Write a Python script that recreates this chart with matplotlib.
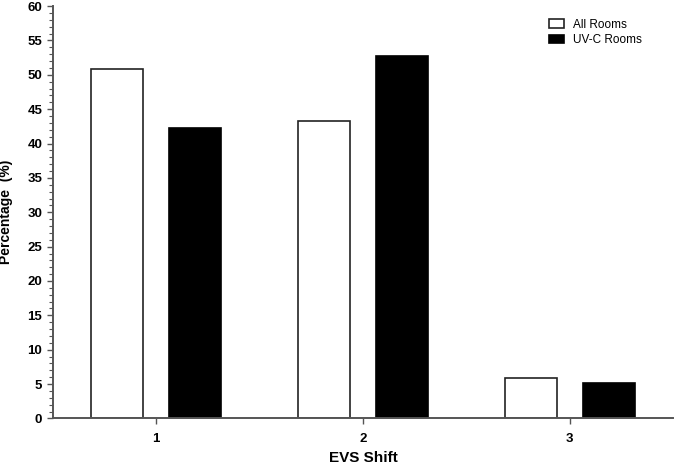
import numpy as np
import matplotlib
matplotlib.use('Agg')
import matplotlib.pyplot as plt
from matplotlib.ticker import MultipleLocator

plt.rcParams['font.family'] = ['Liberation Sans', 'DejaVu Sans']

# data
shifts = ['1', '2', '3']
all_rooms = [50.9, 43.3, 5.9]
uvc_rooms = [42.2, 52.8, 5.1]

x = np.arange(1, len(shifts) + 1)
width = 0.25
offset = 0.188

fig = plt.figure(figsize=(6.74, 4.66), dpi=100)
ax = fig.add_axes([0.078, 0.102, 0.921, 0.885])

ax.bar(x - offset, all_rooms, width, color='white', edgecolor='#222222',
       linewidth=1.2, label='All Rooms')
ax.bar(x + offset, uvc_rooms, width, color='black', edgecolor='black',
       linewidth=1.2, label='UV-C Rooms')

ax.set_xlim(0.5, 3.5)
ax.set_ylim(0, 60)
ax.set_xticks(x)
ax.set_xticklabels(shifts)
ax.yaxis.set_major_locator(MultipleLocator(5))
ax.yaxis.set_minor_locator(MultipleLocator(1))

for s in ['top', 'right']:
    ax.spines[s].set_visible(False)
for s in ['left', 'bottom']:
    ax.spines[s].set_color('#555555')
    ax.spines[s].set_linewidth(1.4)

ax.tick_params(axis='both', which='major', direction='out', length=4.5,
               width=1, color='#555555', labelsize=9.5, pad=3)
ax.tick_params(axis='y', which='minor', direction='out', length=3,
               width=0.8, color='#555555')
ax.tick_params(axis='x', pad=6)
for lab in ax.get_xticklabels() + ax.get_yticklabels():
    lab.set_fontweight('bold')

ax.set_xlabel('EVS Shift', fontsize=11, fontweight='bold', labelpad=4)
ax.set_ylabel('Percentage  (%)', fontsize=10, fontweight='bold', labelpad=10)

ax.legend(loc='upper left', bbox_to_anchor=(0.782, 0.995), frameon=False,
          fontsize=8.5, handlelength=1.3, handleheight=0.75, handletextpad=0.8,
          labelspacing=0.3)

fig.savefig('out.png', dpi=100)
